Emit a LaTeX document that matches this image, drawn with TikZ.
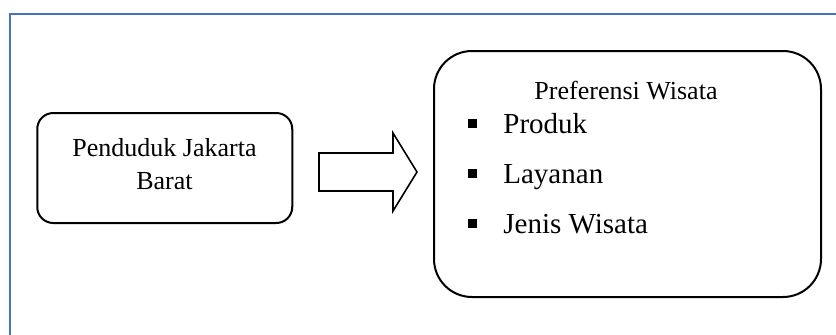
\documentclass[tikz,border=0pt]{standalone}
\usepackage{fontspec}
\setmainfont{Liberation Serif}
\usetikzlibrary{positioning}

\begin{document}
\begin{tikzpicture}[x=0.5pt, y=-0.5pt,
	box/.style     = {draw, line width=1pt, inner sep=0pt},
	frame/.style   = {draw=framecol, line width=1pt},
	blockarrow/.style = {draw, line width=0.8pt, line join=miter, fill=white},
	headtext/.style = {font=\fontsize{13}{16.5}\selectfont},
	itemtext/.style = {font=\fontsize{14.5}{17}\selectfont, anchor=base west, inner sep=0pt},
	bullet/.style  = {fill=black, minimum size=4.5pt, inner sep=0pt},
	]
	\definecolor{framecol}{HTML}{4472C4}

	\useasboundingbox (0,0) rectangle (836,334);
	\clip (0,0) rectangle (836,334);
	\draw[frame] (9.5,13.5) rectangle (900,400); % outer frame, cut off at right and bottom

	\node[box, rounded corners=8pt, minimum width=127.5pt, minimum height=55pt] (src) at (164.75,168) {};
	\node[headtext, align=center] (srctext) at (164.5,164) {Penduduk Jakarta\\Barat};

	\node[box, rounded corners=19pt, minimum width=193.5pt, minimum height=123pt] (pref) at (627.5,174) {};
	\node[headtext, anchor=base, inner sep=0pt] (preftitle) at (626,99) {Preferensi Wisata};

	\foreach \entry/\yy [count=\i] in {Produk/133, Layanan/183, Jenis Wisata/233}{
		\node[bullet] (dot\i) at (472,\yy-9.5) {};
		\node[itemtext] (entry\i) at (503,\yy) {\entry};
	}

	% block arrow between the two boxes
	\coordinate (tail) at (319,172);
	\coordinate (tip) at (417,172);
	\draw[blockarrow] (tail) ++(0,-19) -- ++(74,0) -- ++(0,-20) -- (tip) -- ++(-24,39) -- ++(0,-20) -- ++(-74,0) -- cycle;

\end{tikzpicture}
\end{document}
